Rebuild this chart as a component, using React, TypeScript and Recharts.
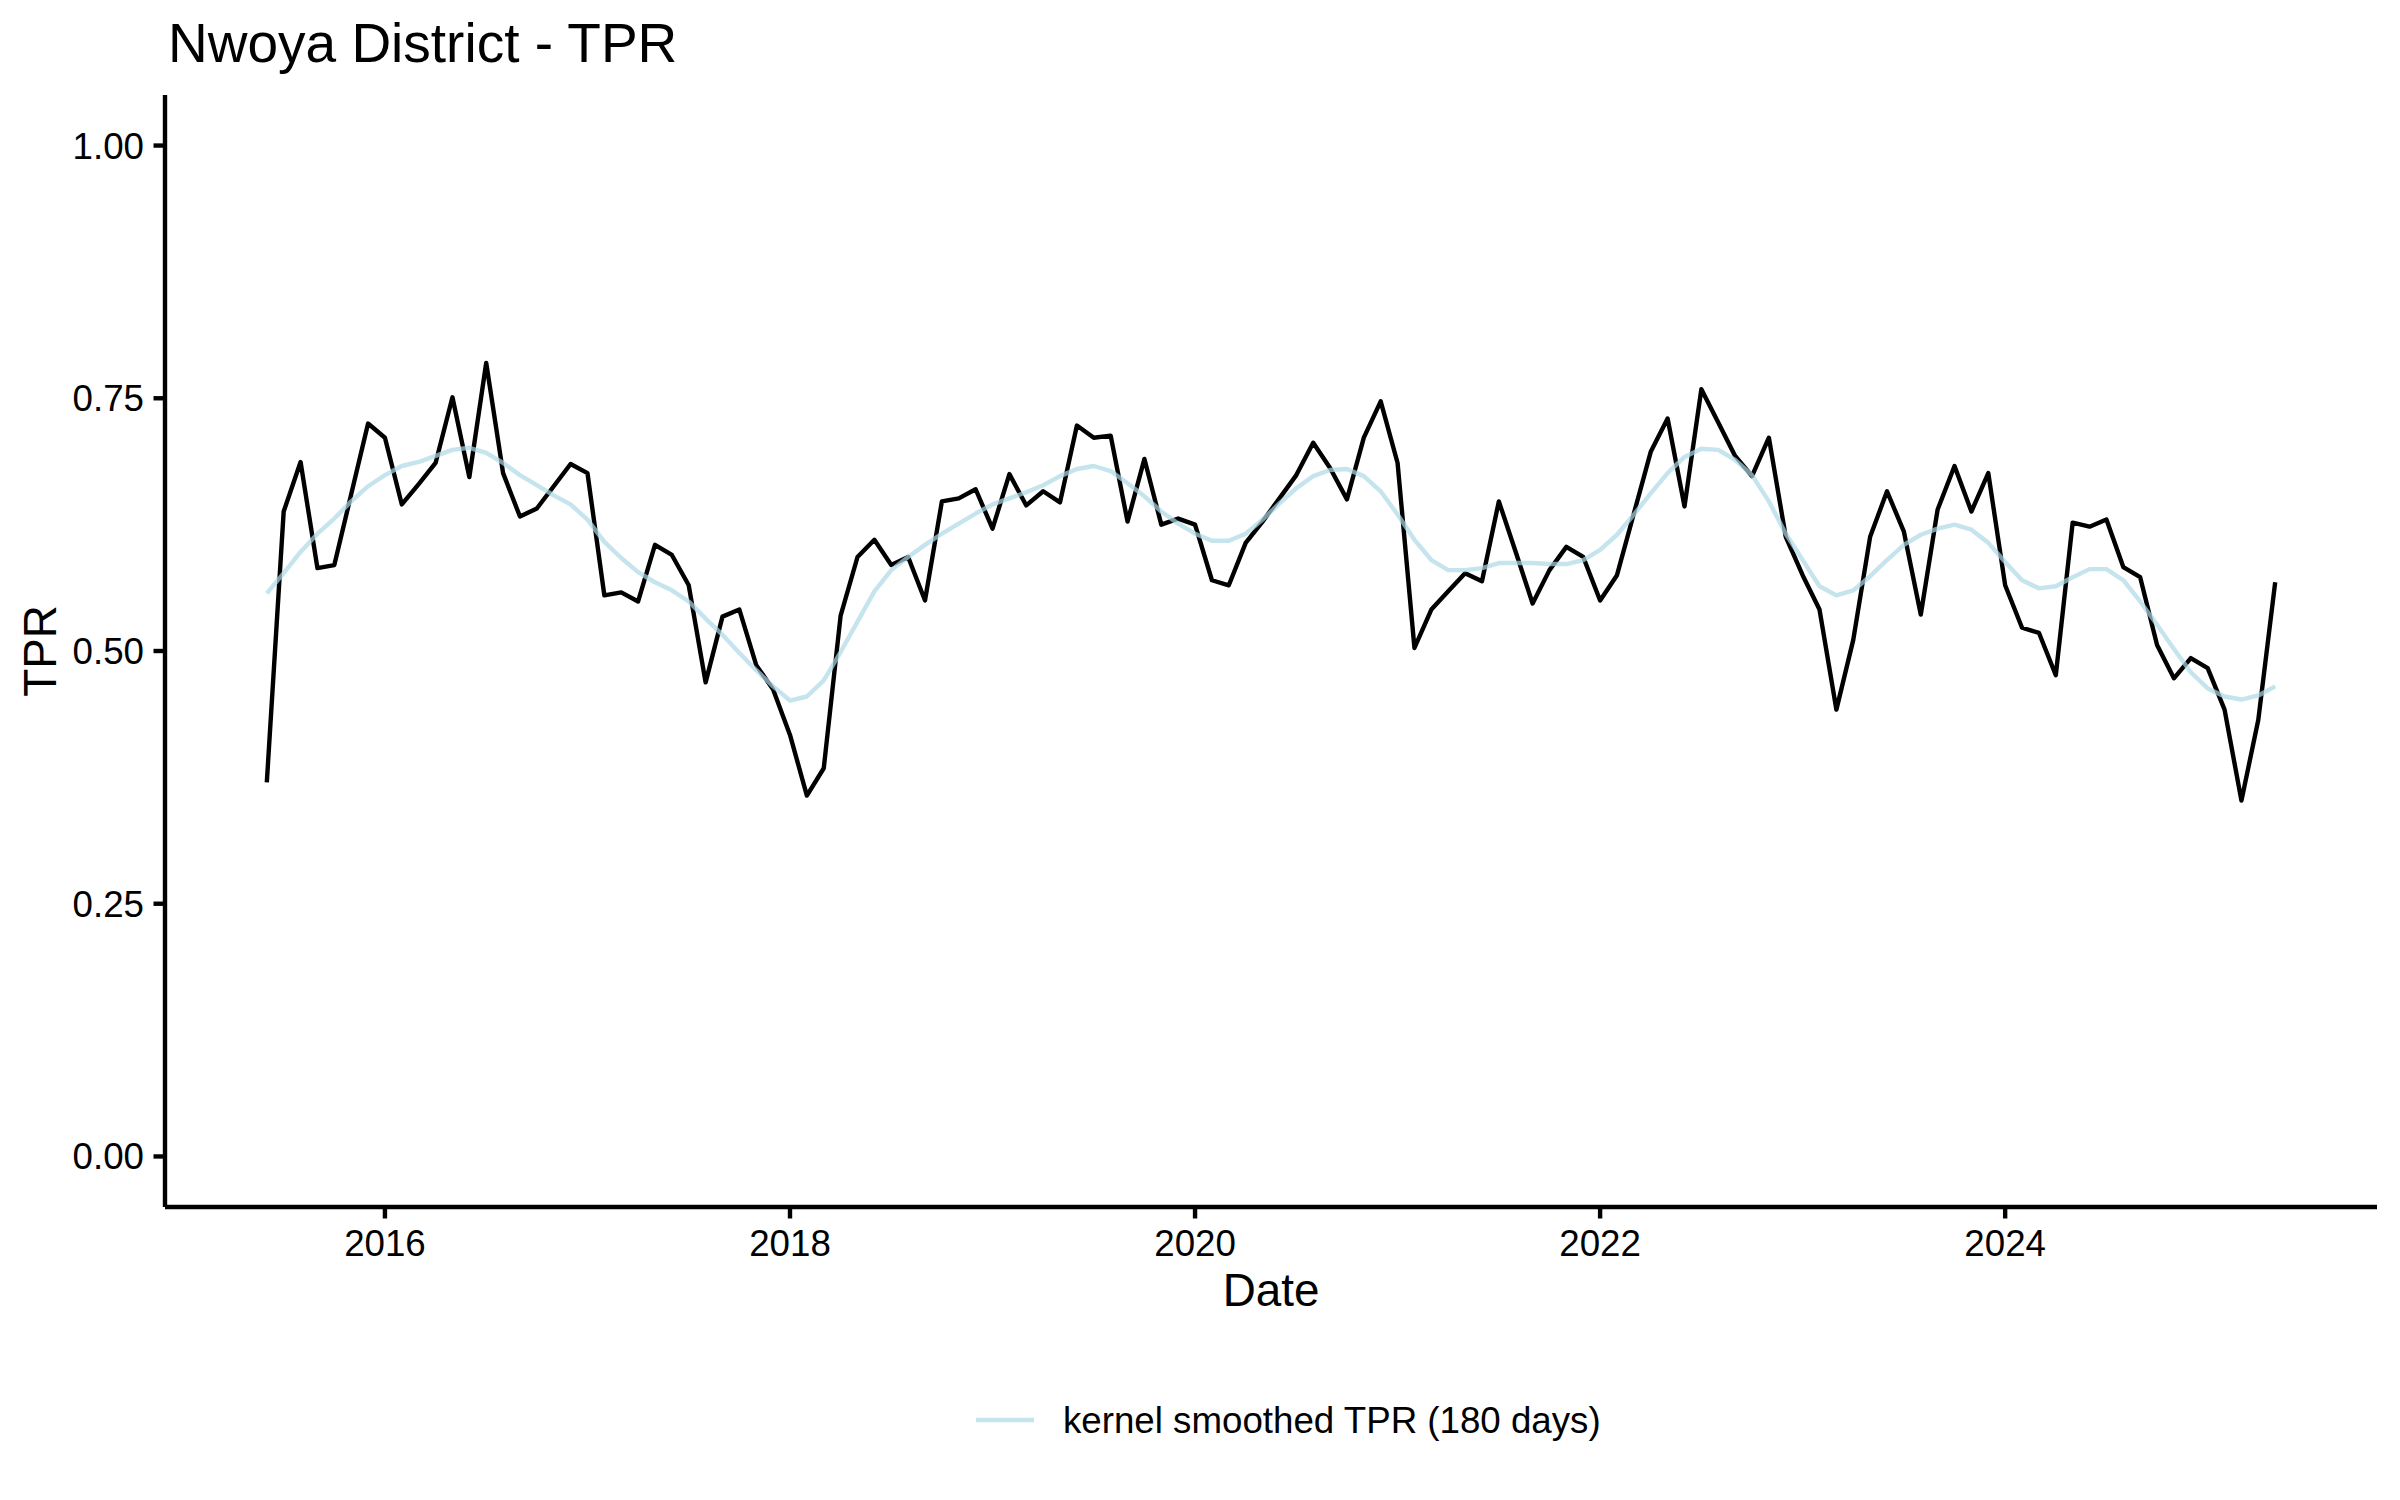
import React from "react";
import { LineChart, Line, XAxis, YAxis } from "recharts";

const months = [
  "2015-06","2015-07","2015-08","2015-09","2015-10","2015-11","2015-12",
  "2016-01","2016-02","2016-03","2016-04","2016-05","2016-06","2016-07","2016-08","2016-09","2016-10","2016-11","2016-12",
  "2017-01","2017-02","2017-03","2017-04","2017-05","2017-06","2017-07","2017-08","2017-09","2017-10","2017-11","2017-12",
  "2018-01","2018-02","2018-03","2018-04","2018-05","2018-06","2018-07","2018-08","2018-09","2018-10","2018-11","2018-12",
  "2019-01","2019-02","2019-03","2019-04","2019-05","2019-06","2019-07","2019-08","2019-09","2019-10","2019-11","2019-12",
  "2020-01","2020-02","2020-03","2020-04","2020-05","2020-06","2020-07","2020-08","2020-09","2020-10","2020-11","2020-12",
  "2021-01","2021-02","2021-03","2021-04","2021-05","2021-06","2021-07","2021-08","2021-09","2021-10","2021-11","2021-12",
  "2022-01","2022-02","2022-03","2022-04","2022-05","2022-06","2022-07","2022-08","2022-09","2022-10","2022-11","2022-12",
  "2023-01","2023-02","2023-03","2023-04","2023-05","2023-06","2023-07","2023-08","2023-09","2023-10","2023-11","2023-12",
  "2024-01","2024-02","2024-03","2024-04","2024-05","2024-06","2024-07","2024-08","2024-09","2024-10","2024-11","2024-12",
  "2025-01","2025-02","2025-03","2025-04","2025-05",
];

const tpr = [
  0.370, 0.638, 0.687, 0.582, 0.585, 0.655, 0.725,
  0.711, 0.645, 0.665, 0.686, 0.751, 0.672, 0.785, 0.676, 0.633, 0.641, 0.663, 0.685,
  0.676, 0.555, 0.558, 0.549, 0.605, 0.595, 0.565, 0.469, 0.534, 0.541, 0.486, 0.462,
  0.417, 0.357, 0.384, 0.535, 0.593, 0.610, 0.585, 0.593, 0.550, 0.648, 0.651, 0.660,
  0.621, 0.675, 0.644, 0.658, 0.647, 0.723, 0.711, 0.713, 0.628, 0.690, 0.625, 0.631,
  0.625, 0.570, 0.565, 0.607, 0.628, 0.651, 0.674, 0.706, 0.681, 0.650, 0.711, 0.747,
  0.686, 0.503, 0.541, 0.559, 0.577, 0.569, 0.648, 0.598, 0.547, 0.580, 0.603, 0.593,
  0.550, 0.575, 0.636, 0.697, 0.730, 0.643, 0.759, 0.726, 0.693, 0.673, 0.711, 0.613,
  0.575, 0.541, 0.442, 0.511, 0.613, 0.658, 0.618, 0.536, 0.640, 0.683, 0.638, 0.676,
  0.565, 0.523, 0.518, 0.476, 0.627, 0.623, 0.630, 0.583, 0.573, 0.506, 0.473, 0.493,
  0.483, 0.442, 0.352, 0.432, 0.568,
];

const smoothed = [
  0.557, 0.577, 0.598, 0.616, 0.631, 0.648, 0.663,
  0.674, 0.683, 0.687, 0.693, 0.699, 0.701, 0.696, 0.686, 0.674, 0.664, 0.654, 0.645,
  0.630, 0.608, 0.592, 0.578, 0.568, 0.560, 0.549, 0.532, 0.516, 0.498, 0.481, 0.465,
  0.451, 0.455, 0.471, 0.499, 0.529, 0.559, 0.580, 0.593, 0.605, 0.616, 0.626, 0.636,
  0.645, 0.651, 0.657, 0.664, 0.673, 0.680, 0.683, 0.678, 0.666, 0.653, 0.638, 0.626,
  0.616, 0.609, 0.609, 0.616, 0.630, 0.646, 0.661, 0.673, 0.679, 0.680, 0.673, 0.658,
  0.635, 0.610, 0.590, 0.580, 0.580, 0.582, 0.587, 0.587, 0.587, 0.586, 0.586, 0.590,
  0.600, 0.615, 0.635, 0.656, 0.676, 0.692, 0.700, 0.699, 0.689, 0.674, 0.648, 0.616,
  0.590, 0.564, 0.555, 0.560, 0.574, 0.590, 0.605, 0.615, 0.621, 0.625, 0.620, 0.607,
  0.588, 0.570, 0.562, 0.564, 0.573, 0.581, 0.581, 0.570, 0.549, 0.526, 0.502, 0.479,
  0.463, 0.455, 0.452, 0.456, 0.465,
];

const xTicks = [2016, 2018, 2020, 2022, 2024];
const yTicks = [0, 0.25, 0.5, 0.75, 1];

const TITLE = "Nwoya District - TPR";
const X_TITLE = "Date";
const Y_TITLE = "TPR";
const LEGEND_LABEL = "kernel smoothed TPR (180 days)";

const toYear = (m: string) => {
  const [y, mo] = m.split("-").map(Number);
  return y + (mo - 1) / 12;
};

const data = months.map((m, i) => ({ t: toYear(m), tpr: tpr[i], smooth: smoothed[i] }));

const FONT = "'Liberation Sans', Arial, Helvetica, sans-serif";
const LW = 4.4;
const BLUE = "#ADD8E6";

export default function App() {
  return (
    <div style={{ position: "relative", width: 2400, height: 1500, background: "#fff" }}>
      <style>{"body{margin:0;background:#fff}"}</style>
      <LineChart
        width={2400}
        height={1500}
        data={data}
        margin={{ top: 95, right: 23, bottom: 0, left: 0 }}
      >
        <XAxis
          dataKey="t"
          type="number"
          domain={[2014.914, 2025.836]}
          allowDataOverflow
          ticks={xTicks}
          tickFormatter={(v: number) => String(v)}
          height={293}
          tickSize={11.5}
          tickMargin={11}
          axisLine={{ stroke: "#000", strokeWidth: LW }}
          tickLine={{ stroke: "#000", strokeWidth: LW }}
          tick={{ fill: "#000", fontSize: 36.7, fontFamily: FONT }}
        />
        <YAxis
          type="number"
          domain={[-0.05, 1.05]}
          allowDataOverflow
          ticks={yTicks}
          tickFormatter={(v: number) => v.toFixed(2)}
          width={165}
          tickSize={11.5}
          tickMargin={9.5}
          axisLine={{ stroke: "#000", strokeWidth: LW }}
          tickLine={{ stroke: "#000", strokeWidth: LW }}
          tick={{ fill: "#000", fontSize: 36.7, fontFamily: FONT }}
        />
        <Line
          dataKey="tpr"
          type="linear"
          stroke="#000"
          strokeWidth={LW}
          strokeLinejoin="round"
          dot={false}
          activeDot={false}
          isAnimationActive={false}
        />
        <Line
          dataKey="smooth"
          type="linear"
          stroke={BLUE}
          strokeOpacity={0.7}
          strokeWidth={LW}
          strokeLinejoin="round"
          dot={false}
          activeDot={false}
          isAnimationActive={false}
        />
      </LineChart>
      <svg
        width={2400}
        height={1500}
        style={{ position: "absolute", left: 0, top: 0, pointerEvents: "none" }}
      >
        <text x={168} y={62} fontSize={55} fontFamily={FONT} fill="#000">
          {TITLE}
        </text>
        <text x={1271} y={1306} fontSize={45.8} fontFamily={FONT} fill="#000" textAnchor="middle">
          {X_TITLE}
        </text>
        <text
          x={0}
          y={0}
          fontSize={45.8}
          fontFamily={FONT}
          fill="#000"
          textAnchor="middle"
          transform="translate(56,651) rotate(-90)"
        >
          {Y_TITLE}
        </text>
        <line x1={976} y1={1420} x2={1034} y2={1420} stroke={BLUE} strokeOpacity={0.7} strokeWidth={LW} />
        <text x={1063} y={1433} fontSize={36.7} fontFamily={FONT} fill="#000">
          {LEGEND_LABEL}
        </text>
      </svg>
    </div>
  );
}
